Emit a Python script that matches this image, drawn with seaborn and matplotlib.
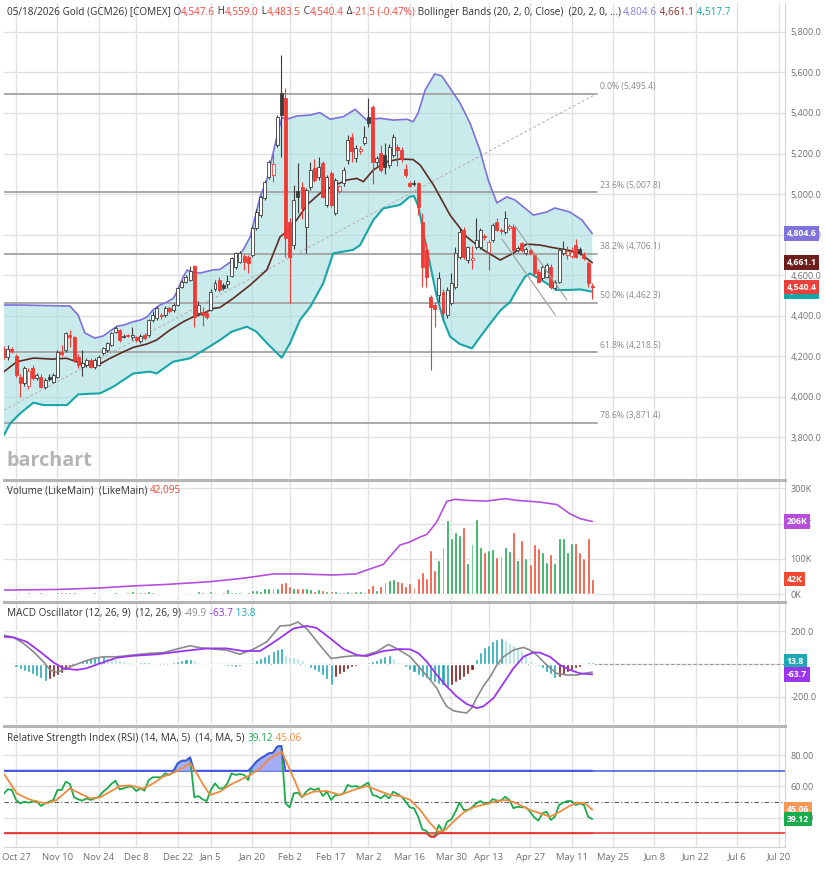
import numpy as np
import pandas as pd
import matplotlib

matplotlib.use('Agg')
import matplotlib.pyplot as plt
from matplotlib.ticker import FuncFormatter
import seaborn as sns

# ----------------------------------------------------------------------------------------------------------------------
# trading calendar (day 0 = Oct 22 2025), exchange holidays before the last bar
holidays = ['2025-11-27', '2025-12-25', '2026-01-01', '2026-01-19', '2026-02-16', '2026-04-03']
tick_dates = ['2025-10-27', '2025-11-10', '2025-11-24', '2025-12-08', '2025-12-22', '2026-01-05',
              '2026-01-20', '2026-02-02', '2026-02-17', '2026-03-02', '2026-03-16', '2026-03-30',
              '2026-04-13', '2026-04-27', '2026-05-11', '2026-05-25', '2026-06-08', '2026-06-22',
              '2026-07-06', '2026-07-20']
tick_labels = ['Oct 27', 'Nov 10', 'Nov 24', 'Dec 8', 'Dec 22', 'Jan 5', 'Jan 20', 'Feb 2', 'Feb 17',
               'Mar 2', 'Mar 16', 'Mar 30', 'Apr 13', 'Apr 27', 'May 11', 'May 25', 'Jun 8', 'Jun 22',
               'Jul 6', 'Jul 20']

# daily candles, Oct 22 2025 .. May 18 2026
opens = [4233, 4193, 4233, 4200, 4098, 4065, 4050, 4139, 4090, 4098,
         4045, 4098, 4073, 4098, 4221, 4230, 4304, 4292, 4197, 4144,
         4156, 4180, 4147, 4156, 4213, 4230, 4254, 4320, 4328, 4296,
         4300, 4295, 4292, 4276, 4304, 4304, 4378, 4386, 4402, 4402,
         4435, 4427, 4452, 4542, 4567, 4575, 4644, 4411, 4419, 4414,
         4427, 4529, 4575, 4551, 4556, 4595, 4641, 4666, 4694, 4690,
         4699, 4831, 4896, 4979, 5086, 5094, 5242, 5497, 5472, 4863,
         4748, 5017, 5036, 4839, 5036, 5127, 5082, 5155, 4946, 5105,
         4908, 5016, 5053, 5168, 5283, 5176, 5210, 5250, 5382, 5431,
         5160, 5201, 5193, 5143, 5193, 5234, 5217, 5122, 5056, 5055,
         5053, 4863, 4723, 4493, 4452, 4501, 4518, 4403, 4460, 4542,
         4691, 4822, 4674, 4675, 4740, 4740, 4793, 4715, 4773, 4863,
         4820, 4814, 4830, 4839, 4725, 4756, 4707, 4725, 4699, 4617,
         4584, 4592, 4641, 4534, 4567, 4707, 4700, 4695, 4748, 4727,
         4699, 4658, 4547.6]
highs = [4250, 4255, 4245, 4210, 4110, 4150, 4140, 4155, 4115, 4110,
         4090, 4110, 4115, 4230, 4255, 4320, 4330, 4300, 4210, 4230,
         4190, 4190, 4190, 4205, 4245, 4270, 4320, 4350, 4335, 4310,
         4308, 4345, 4300, 4310, 4312, 4385, 4420, 4445, 4415, 4445,
         4445, 4460, 4540, 4575, 4600, 4645, 4650, 4470, 4440, 4425,
         4530, 4575, 4590, 4560, 4600, 4690, 4715, 4720, 4705, 4700,
         4840, 4925, 4995, 5070, 5170, 5200, 5390, 5686, 5522, 4880,
         5045, 5152, 5060, 5030, 5160, 5175, 5185, 5165, 5095, 5115,
         5080, 5045, 5135, 5290, 5300, 5240, 5235, 5335, 5472, 5440,
         5190, 5240, 5250, 5245, 5295, 5245, 5230, 5150, 5065, 5070,
         5060, 4905, 4756, 4501, 4468, 4617, 4530, 4540, 4608, 4740,
         4830, 4835, 4745, 4745, 4880, 4830, 4805, 4775, 4855, 4880,
         4830, 4915, 4850, 4850, 4745, 4765, 4740, 4730, 4710, 4630,
         4650, 4660, 4655, 4575, 4730, 4770, 4745, 4740, 4780, 4740,
         4715, 4670, 4559.0]
lows = [4185, 4180, 4215, 4095, 3999, 4050, 4035, 4080, 4080, 4040,
        4035, 4075, 4065, 4090, 4200, 4222, 4245, 4170, 4140, 4100,
        4145, 4140, 4135, 4150, 4205, 4222, 4248, 4312, 4270, 4290,
        4292, 4280, 4270, 4265, 4280, 4295, 4370, 4378, 4385, 4395,
        4415, 4418, 4445, 4535, 4560, 4570, 4345, 4400, 4350, 4385,
        4420, 4520, 4515, 4525, 4535, 4590, 4630, 4660, 4625, 4608,
        4690, 4820, 4885, 4970, 5075, 5060, 5230, 5184, 4690, 4460,
        4730, 4905, 4875, 4707, 5020, 5060, 5070, 4980, 4935, 4935,
        4895, 5005, 5040, 5150, 5160, 5160, 5200, 5240, 5330, 5050,
        5140, 5110, 5100, 5130, 5185, 5140, 5160, 5085, 5035, 5040,
        4896, 4542, 4542, 4131, 4345, 4468, 4378, 4390, 4450, 4530,
        4680, 4680, 4660, 4630, 4730, 4730, 4775, 4625, 4765, 4815,
        4805, 4805, 4820, 4715, 4715, 4715, 4700, 4700, 4600, 4560,
        4575, 4585, 4530, 4525, 4560, 4700, 4680, 4685, 4685, 4700,
        4675, 4540, 4483.5]
closes = [4193, 4235, 4226, 4106, 4065, 4139, 4128, 4090, 4106, 4049,
          4082, 4085, 4106, 4221, 4210, 4312, 4292, 4180, 4156, 4164,
          4180, 4147, 4180, 4197, 4238, 4263, 4312, 4337, 4279, 4300,
          4299, 4304, 4279, 4299, 4287, 4378, 4402, 4435, 4397, 4435,
          4424, 4452, 4534, 4567, 4592, 4620, 4394, 4452, 4402, 4394,
          4518, 4562, 4526, 4534, 4572, 4682, 4707, 4707, 4666, 4661,
          4831, 4913, 4987, 5061, 5160, 5150, 5382, 5390, 4781, 4691,
          4970, 4987, 4929, 5020, 5119, 5069, 5135, 4987, 5086, 4946,
          5069, 5040, 5119, 5267, 5214, 5226, 5222, 5283, 5349, 5160,
          5176, 5119, 5135, 5234, 5283, 5217, 5175, 5094, 5040, 5050,
          4937, 4641, 4592, 4444, 4431, 4584, 4411, 4526, 4559, 4707,
          4814, 4691, 4740, 4685, 4773, 4822, 4786, 4765, 4847, 4822,
          4817, 4880, 4840, 4723, 4735, 4723, 4731, 4710, 4608, 4567,
          4641, 4649, 4542, 4567, 4723, 4731, 4718, 4712, 4691, 4707,
          4682, 4561.9, 4540.4]

# Bollinger Bands (20, 2): (day, value)
upper_day = [0.1, 4, 11, 16, 18, 19.6, 22, 24, 25.7, 27.4, 29, 31, 33, 34.6, 36, 37.7, 39.4, 41, 42, 43.3,
             44.3, 45.7, 47.4, 50.5, 52.2, 55.4, 57.8, 59.5, 60.7, 61.9, 63.5, 65, 66.3, 67.2, 68.3, 70.7,
             74, 76.3, 78.8, 82, 84.8, 87.6, 90.8, 94, 97.3, 98.8, 100, 101.7, 104, 105.7, 107.7, 110.1,
             112.5, 114.9, 116.9, 119, 121.4, 123.4, 127.8, 131, 133, 136.6, 139.5, 142]
upper_val = [4452, 4452, 4449, 4447, 4402, 4314, 4289, 4299, 4324, 4348, 4353, 4368, 4378, 4393, 4427, 4452,
             4467, 4486, 4526, 4590, 4625, 4612, 4610, 4625, 4628, 4674, 4724, 4789, 4888, 4987, 5069, 5201,
             5316, 5378, 5369, 5385, 5390, 5402, 5369, 5382, 5418, 5365, 5374, 5365, 5369, 5357, 5400, 5514,
             5593, 5583, 5523, 5449, 5351, 5217, 5069, 4956, 4986, 4970, 4896, 4911, 4931, 4911, 4872, 4804.6]
mid_day = [0.1, 3.2, 7.2, 11.8, 15.2, 17.6, 20, 22.8, 25.7, 28.9, 31.3, 34.5, 36.9, 40.1, 43.4, 45.8, 48.2,
           50.6, 52.2, 55.4, 59.5, 63.5, 66.7, 68.3, 70.7, 73.2, 76.3, 79.5, 82.8, 85.2, 86.8, 89.2, 92.5,
           95.6, 98.8, 100.5, 103.7, 107.7, 111.7, 115.7, 119.8, 122.9, 126.2, 129.4, 132.6, 135.9, 139.1, 142]
mid_val = [4123, 4172, 4190, 4185, 4189, 4172, 4156, 4156, 4189, 4221, 4243, 4259, 4279, 4328, 4370, 4394,
           4411, 4435, 4440, 4485, 4551, 4625, 4789, 4814, 4872, 4946, 5003, 5040, 5069, 5077, 5061, 5119,
           5160, 5173, 5170, 5143, 5045, 4896, 4789, 4724, 4674, 4707, 4753, 4748, 4735, 4724, 4707, 4661.1]
lower_day = [0.1, 1.6, 4, 7.2, 9.6, 15.3, 18, 23.3, 26.5, 31.3, 35.3, 36.9, 40.9, 45, 49, 52.2, 55, 58.7,
             61, 63.5, 67.1, 69.1, 71.5, 74, 77.1, 79.5, 84.3, 86, 89.2, 91.6, 95.6, 98, 99, 100.1, 101.3,
             103, 104.5, 106.1, 107.7, 110.1, 113, 115, 117.4, 119.8, 122.2, 123.8, 125.8, 127, 129.4, 131,
             133.5, 135.9, 139.1, 142]
lower_val = [3810, 3868, 3917, 3970, 3958, 3958, 4011, 4016, 4049, 4114, 4123, 4114, 4172, 4189, 4238, 4279,
             4320, 4345, 4320, 4264, 4192, 4264, 4378, 4444, 4559, 4707, 4724, 4748, 4872, 4929, 4946, 4987,
             4990, 4937, 4806, 4641, 4493, 4378, 4296, 4259, 4238, 4296, 4361, 4424, 4468, 4526, 4592, 4608,
             4579, 4559, 4526, 4526, 4529, 4517.7]

# Fibonacci retracement and drawn trend lines
fib_pct = ['0.0%', '23.6%', '38.2%', '50.0%', '61.8%', '78.6%']
fib_lvl = [5495.4, 5007.8, 4706.1, 4462.3, 4218.5, 3871.4]
fib_span = [0.1, 143.1]
fib_diag = [3933, 5495.4]
trend_a_day, trend_a_val = [120.2, 133.1], [4778, 4402]
trend_b_day, trend_b_val = [123.4, 135.9], [4842, 4477]

# volume (thousands) and its moving average
volume = [4, 3, 4, 5, 4, 3, 5, 4, 3, 5,
          4, 4, 3, 5, 7, 6, 6, 5, 3, 3,
          4, 4, 7, 4, 3, 3, 4, 5, 3, 4,
          5, 8, 6, 7, 7, 8, 7, 4, 4, 3,
          4, 3, 3, 3, 3, 4, 4, 9, 6, 4,
          9, 5, 4, 6, 13, 7, 7, 6, 4, 5,
          11, 10, 9, 16, 16, 17, 18, 30, 33, 23,
          16, 18, 18, 16, 13, 8, 13, 11, 8, 8,
          9, 7, 7, 8, 7, 8, 9, 7, 16, 25,
          11, 23, 35, 41, 44, 37, 35, 23, 32, 19,
          46, 63, 46, 125, 68, 98, 134, 209, 158, 175,
          167, 189, 89, 143, 214, 134, 120, 126, 129, 106,
          108, 134, 122, 176, 98, 153, 101, 84, 143, 131,
          118, 92, 115, 87, 159, 159, 120, 146, 146, 118,
          101, 160, 42.095]
vol_ma_day = [0.1, 13, 23, 31.3, 39, 49.8, 58, 65.1, 71, 79.6, 85, 87.6, 91.6, 92.8, 95.6, 98, 100.5, 102.1,
              104.5, 106.9, 108.9, 111.7, 116.6, 121, 123.8, 129.4, 133.5, 136.6, 139.1, 142]
vol_ma_val = [11, 13, 17, 23, 27, 35, 45, 57, 57, 54, 57, 68, 84, 101, 139, 148, 162, 169, 205, 263, 269,
              266, 264, 271, 266, 261, 254, 228, 214, 206]

# MACD (12, 26, 9)
macd_hist = [14, -4, -8, -16, -30, -40, -50, -60, -73, -87,
             -101, -91, -77, -67, -53, -36, -16, -2, 10, 20,
             30, 38, 44, 50, 55, 44, 34, 28, 22, 18,
             14, 10, 8, 10, 12, 12, 8, 4, 2, 2,
             6, 10, 18, 24, 28, 30, 22, 10, 4, -4,
             -6, -4, -6, -4, -10, -14, -16, -12, -8, -4,
             10, 24, 38, 50, 62, 79, 89, 95, 55, 48,
             42, 38, 24, 8, -22, -34, -50, -67, -91, -131,
             -77, -63, -46, -32, -18, -10, -6, 4, 10, 18,
             26, 38, 46, 55, 38, 14, -8, -18, -34, -50,
             -67, -77, -87, -97, -107, -121, -131, -141, -127, -107,
             -97, -77, -63, -36, 30, 75, 101, 115, 139, 151,
             156, 149, 131, 115, 101, 85, 65, 24, 10, -10,
             -26, -46, -63, -83, -79, -67, -46, -36, -26, -16,
             -4, 12, 13.8]
macd_day = [0.1, 2.4, 4.8, 7.2, 9.6, 11.2, 12.8, 14.8, 16.8, 19.2, 21.7, 24.1, 27.3, 31.3, 35.3, 38.5, 41.8,
            45, 47.4, 50.6, 53.8, 57, 60.3, 63.5, 66.7, 69.1, 71, 73.1, 76.3, 79, 80.4, 82, 84.4, 86.8, 90,
            92.8, 94.8, 98.1, 100.5, 102.9, 104.5, 105.7, 106.9, 108.5, 110.1, 111.7, 112.9, 114.1, 115.7,
            117.4, 119, 120.6, 123, 125.4, 127, 128.6, 131, 133.4, 135.8, 138.3, 140.3, 142]
macd_val = [176, 162, 125, 75, 14, -36, -50, -30, -10, 14, 34, 44, 44, 55, 65, 69, 91, 111, 99, 91, 85, 59,
            91, 135, 232, 236, 256, 216, 115, 34, 38, 44, 50, 50, 75, 119, 95, 44, -26, -97, -147, -208,
            -259, -285, -293, -299, -269, -208, -137, -77, -6, 44, 85, 101, 85, 55, -6, -57, -67, -67, -57,
            -49.9]
signal_day = [0.1, 2.4, 5.6, 8.8, 12, 14.4, 17.6, 20, 23.3, 27.3, 31.3, 37, 43.4, 49, 53.8, 57.8, 61.9,
              65.9, 69.9, 73.1, 75.5, 78.8, 82, 85.2, 87.6, 91.6, 95.6, 98.1, 100.1, 102.1, 104.5, 106.9,
              109.3, 111.7, 114.1, 115.7, 118.2, 120.6, 123, 125.4, 127.8, 129.4, 131.8, 134.2, 136.6, 139, 142]
signal_val = [166, 162, 135, 75, 10, -26, -36, -26, 4, 38, 50, 59, 79, 95, 95, 79, 79, 145, 216, 232, 220,
              156, 91, 55, 48, 79, 91, 89, 65, 14, -67, -137, -198, -244, -269, -259, -208, -117, -26, 44,
              71, 69, 44, -6, -36, -57, -63.7]

# RSI (14) and its 5-day average
rsi = [55.1, 58.1, 57.7, 51.3, 49.1, 50.2, 49.6, 50.2, 50.6, 47.4,
       49.1, 50.2, 51.3, 57.7, 57.7, 63.0, 61.5, 53.0, 51.7, 50.9,
       52.3, 51.3, 52.3, 53.4, 56.6, 58.7, 61.5, 63.6, 58.1, 58.7,
       59.8, 59.8, 57.0, 58.7, 57.2, 64.0, 65.8, 65.8, 65.8, 68.3,
       67.3, 69.4, 74.7, 76.4, 76.4, 78.5, 53.0, 53.8, 51.7, 50.6,
       57.7, 61.9, 58.7, 58.7, 61.9, 68.3, 67.3, 67.9, 67.3, 64.0,
       72.6, 75.8, 77.9, 79.4, 81.1, 81.5, 85.4, 85.8, 49.1, 46.6,
       55.5, 56.0, 53.0, 56.6, 58.7, 57.7, 58.7, 53.8, 56.6, 51.3,
       54.5, 54.5, 55.5, 60.9, 59.8, 60.2, 59.2, 60.9, 62.4, 54.5,
       53.8, 52.3, 54.5, 52.3, 56.6, 55.1, 53.4, 50.2, 46.6, 46.0,
       40.6, 32.5, 31.5, 27.8, 27.8, 35.3, 31.0, 37.4, 38.9, 43.8,
       49.6, 44.9, 44.9, 46.6, 49.1, 50.6, 49.1, 49.1, 51.9, 50.9,
       50.9, 53.4, 51.3, 46.0, 47.0, 46.6, 46.6, 43.8, 40.2, 38.1,
       42.8, 43.8, 38.5, 40.6, 48.1, 49.6, 50.6, 50.6, 48.1, 49.1,
       48.1, 40.6, 39.12]
rsi_ma_day = [0.1, 1.6, 3.2, 5.6, 8, 10.4, 12.8, 16, 18.4, 20.9, 23.3, 25.7, 28.1, 30.5, 33.7, 36.1, 38.5,
              41, 43, 45, 46.6, 48.2, 49.8, 52.2, 54.6, 57, 59.5, 61.9, 64.3, 67.1, 69.1, 71.9, 74.7, 77.9,
              81.2, 84.4, 87.6, 90, 93.2, 95.6, 98.1, 100.5, 102.9, 104.9, 106.5, 108.5, 110.9, 113.3, 116.5,
              119, 121.4, 123.8, 127, 129.4, 131.8, 134.2, 136.2, 138.3, 140.3, 142]
rsi_ma_val = [67.9, 61.9, 55.5, 52.3, 50.2, 49.1, 51.3, 58.7, 55.5, 52.3, 53, 56.6, 60.2, 60.6, 58.5, 61.9,
              66.2, 68.7, 71.5, 74.7, 68.3, 60.9, 54.5, 56.6, 60.9, 64, 67.3, 71.5, 77.9, 82.2, 70.4, 53.4,
              56.6, 57, 54.5, 57.7, 60.2, 57.7, 54.5, 53.8, 51.3, 44.9, 36.4, 31, 32.1, 37.4, 43.2, 46.6,
              48.7, 50.6, 51.3, 49.1, 44.9, 42.8, 40.6, 43.8, 47, 49.6, 49.1, 45.06]

# ----------------------------------------------------------------------------------------------------------------------
sns.set_theme(style='white')
plt.rcParams['font.family'] = ['Open Sans', 'DejaVu Sans']

W, H = 827, 872
fig = plt.figure(figsize=(W / 100, H / 100), dpi=100)
fig.patch.set_facecolor('white')


def px_axes(top, bottom):
    return fig.add_axes([4 / W, 1 - bottom / H, 781 / W, (bottom - top) / H])


ax_p = px_axes(3, 478)
ax_v = px_axes(480, 600)
ax_m = px_axes(602, 724)
ax_r = px_axes(726, 847)
axes = [ax_p, ax_v, ax_m, ax_r]

cal = pd.bdate_range('2025-10-22', '2026-07-31', freq='C', holidays=holidays)
tick_pos = cal.get_indexer(pd.to_datetime(tick_dates))
day = np.arange(len(closes))

o, hi, lo, c = map(np.array, (opens, highs, lows, closes))
prev_c = np.r_[o[0], c[:-1]]
candle_col = np.where(c >= prev_c, '#3b3b3b', '#ef3b36')
face_col = np.where(c < o, candle_col, 'white')

GRID = '#e1e1e1'
LBL = '#707070'
TXT = 7.2


def line(ax, x, y, color, lw, z=3):
    sns.lineplot(x=np.asarray(x, float), y=np.asarray(y, float), ax=ax, color=color, linewidth=lw,
                 estimator=None, sort=False, legend=False, zorder=z)


def tag(ax, val, txt, colr):
    ax.annotate(txt, xy=(1, val), xycoords=('axes fraction', 'data'), xytext=(1.2, 0),
                textcoords='offset points', ha='left', va='center', fontsize=6.3, fontweight='bold',
                color='white', bbox=dict(boxstyle='square,pad=0.32', fc=colr, ec='none'),
                annotation_clip=False, zorder=10)


def rich(ax, y, parts, size=TXT):
    prev = None
    for s, colr in parts:
        if prev is None:
            prev = ax.annotate(s, xy=(7 / W, 1 - y / H), xycoords='figure fraction', ha='left', va='center',
                               color=colr, fontsize=size, annotation_clip=False, zorder=11)
        else:
            prev = ax.annotate(s, xy=(1, 0), xycoords=prev, ha='left', va='bottom', color=colr,
                               fontsize=size, annotation_clip=False, zorder=11)


# ---------------------------------------------------------------- price panel
ax = ax_p
ax.fill(np.r_[upper_day, lower_day[::-1]], np.r_[upper_val, lower_val[::-1]], color='#9fdcdc', alpha=0.55,
        lw=0, zorder=1)
for lvl, pct in zip(fib_lvl, fib_pct):
    ax.plot(fib_span, [lvl, lvl], color='#a3a3a3', lw=1.3, zorder=1.5)
    ax.annotate(f'{pct} ({lvl:,.1f})', xy=(fib_span[1], lvl), xytext=(2, 5), textcoords='offset points',
                ha='left', va='center', fontsize=6.2, color='#8a8a8a')
ax.plot(fib_span, fib_diag, color='#b5b5b5', lw=0.8, ls=(0, (2.5, 2)), zorder=1.6)
line(ax, upper_day, upper_val, '#7d70dc', 1.2)
line(ax, mid_day, mid_val, '#5c2b24', 1.2)
line(ax, lower_day, lower_val, '#17a6a8', 1.5)
ax.vlines(day, lo, hi, colors=candle_col, lw=0.8, zorder=4)
ax.bar(day, np.maximum(np.abs(c - o), 4), bottom=np.minimum(o, c), width=0.72, color=face_col,
       edgecolor=candle_col, linewidth=0.6, zorder=5)
ax.plot(trend_a_day, trend_a_val, color='#9c9c9c', lw=0.8, zorder=6)
ax.plot(trend_b_day, trend_b_val, color='#9c9c9c', lw=0.8, zorder=6)
ax.set_ylim(3598, 5943)
ax.set_yticks(np.arange(3800, 5801, 200))
ax.yaxis.set_major_formatter(FuncFormatter(lambda v, p: f'{v:,.1f}'))
tag(ax, lower_val[-1], f'{lower_val[-1]:,.1f}', '#17a6a8')
tag(ax, upper_val[-1], f'{upper_val[-1]:,.1f}', '#8173dc')
tag(ax, mid_val[-1], f'{mid_val[-1]:,.1f}', '#6e1e1a')
tag(ax, closes[-1], f'{closes[-1]:,.1f}', '#ea3f3a')
ax.annotate('barchart', xy=(6 / W, 1 - 461 / H), xycoords='figure fraction', ha='left', va='center',
            fontsize=14.2, fontweight='bold', color='#b4b4b4', zorder=11)
chg = closes[-1] - closes[-2]
RED = '#f0483e'
rich(ax, 12, [('05/18/2026 Gold (GCM26) [COMEX] O', '#333333'), (f'{opens[-1]:,.1f}', RED),
              (' H', '#333333'), (f'{highs[-1]:,.1f}', RED), (' L', '#333333'), (f'{lows[-1]:,.1f}', RED),
              (' C', '#333333'), (f'{closes[-1]:,.1f}', RED), (' Δ', '#333333'),
              (f'{chg:.1f} ({chg / closes[-2] * 100:.2f}%)', RED),
              (' Bollinger Bands (20, 2, 0, Close)  (20, 2, 0, ...) ', '#333333'),
              (f'{upper_val[-1]:,.1f}', '#8b7fe0'), (f' {mid_val[-1]:,.1f}', '#8f2f2a'),
              (f' {lower_val[-1]:,.1f}', '#1aa8a8')])

# ---------------------------------------------------------------- volume panel
ax = ax_v
vol_col = np.where(c >= o, '#1ca84f', '#f04b32')
ax.bar(day, np.array(volume) * 1000, width=0.7, color=vol_col, zorder=3)
line(ax, vol_ma_day, np.array(vol_ma_val) * 1000, '#b54fe0', 1.2, z=4)
ax.set_ylim(-17045, 323864)
ax.set_yticks([0, 100000, 200000, 300000])
ax.yaxis.set_major_formatter(FuncFormatter(lambda v, p: f'{int(round(v / 1000))}K'))
tag(ax, vol_ma_val[-1] * 1000, f'{vol_ma_val[-1]:.0f}K', '#b74fd9')
tag(ax, volume[-1] * 1000, f'{volume[-1]:.0f}K', '#f04b32')
rich(ax, 490.5, [('Volume (LikeMain)  (LikeMain) ', '#333333'), (f'{volume[-1] * 1000:,.0f}', '#f04b32')])

# ---------------------------------------------------------------- MACD panel
ax = ax_m
hist = np.array(macd_hist, float)
dh = np.diff(hist, prepend=hist[0] + 10)
hist_col = np.where(hist >= 0, np.where(dh >= 0, '#1fa9b3', '#a8e1e3'),
                    np.where(dh > 0, '#7d1414', '#1fa9b3'))
ax.bar(day, hist, width=0.74, color=hist_col, zorder=3)
ax.axhline(0, color='#9a9a9a', lw=0.8, ls=(0, (3, 2)), zorder=2)
line(ax, macd_day, macd_val, '#8a8a8a', 1.2, z=4)
line(ax, signal_day, signal_val, '#9b35f0', 1.3, z=5)
ax.set_ylim(-366, 378)
ax.set_yticks([-200, 0, 200])
ax.yaxis.set_major_formatter(FuncFormatter(lambda v, p: f'{v:.1f}'))
tag(ax, macd_hist[-1], f'{macd_hist[-1]:.1f}', '#1fa9b3')
tag(ax, signal_val[-1], f'{signal_val[-1]:.1f}', '#9b35f0')
rich(ax, 613, [('MACD Oscillator (12, 26, 9)  (12, 26, 9) ', '#333333'), (f'{macd_val[-1]:.1f}', '#8a8a8a'),
               (f' {signal_val[-1]:.1f}', '#9b35f0'), (f' {macd_hist[-1]:.1f}', '#1fa9b3')])

# ---------------------------------------------------------------- RSI panel
ax = ax_r
r = np.array(rsi)
ax.axhline(70, color='#4d63e6', lw=1.2, zorder=2)
ax.axhline(30, color='#e53935', lw=1.2, zorder=2)
ax.axhline(50, color='#606060', lw=0.8, ls=(0, (4, 2, 1, 2)), zorder=2)
ax.fill_between(day, r, 70, where=r > 70, interpolate=True, color='#a3acf5', lw=0, zorder=2.5)
ax.fill_between(day, r, 30, where=r < 30, interpolate=True, color='#f5a3a3', lw=0, zorder=2.5)
line(ax, day, r, '#1aab4c', 1.3, z=3)
line(ax, day, np.maximum(r, 70), '#3f51e8', 1.3, z=3.2)
line(ax, day, np.minimum(r, 30), '#e53935', 1.3, z=3.2)
line(ax, rsi_ma_day, rsi_ma_val, '#f28a3e', 1.3, z=4)
ax.set_ylim(21.25, 98.56)
ax.set_yticks([40, 60, 80])
ax.yaxis.set_major_formatter(FuncFormatter(lambda v, p: f'{v:.2f}'))
tag(ax, rsi_ma_val[-1], f'{rsi_ma_val[-1]:.2f}', '#f2995a')
tag(ax, rsi[-1], f'{rsi[-1]:.2f}', '#1aab4c')
rich(ax, 738, [('Relative Strength Index (RSI) (14, MA, 5)  (14, MA, 5) ', '#333333'),
               (f'{rsi[-1]:.2f}', '#1aab4c'), (f' {rsi_ma_val[-1]:.2f}', '#f28a3e')])

# ---------------------------------------------------------------- common styling
for a in axes:
    a.set_xlim(0.1, 188.5)
    a.set_xticks(tick_pos)
    a.set_facecolor('white')
    a.grid(True, color=GRID, lw=1.0)
    a.set_axisbelow(True)
    a.set_xlabel('')
    a.set_ylabel('')
    a.yaxis.tick_right()
    a.tick_params(axis='y', length=0, pad=4, labelsize=6.5, labelcolor=LBL)
    a.tick_params(axis='x', length=0, pad=4, labelsize=6.8, labelcolor=LBL, labelbottom=(a is ax_r))
    for s in ('left', 'bottom', 'top'):
        a.spines[s].set_visible(False)
    a.spines['right'].set_color('#d3d3d3')
    a.spines['right'].set_linewidth(0.8)
for a in (ax_v, ax_m, ax_r):
    a.spines['top'].set_visible(True)
    a.spines['top'].set_color('#b5b5b5')
    a.spines['top'].set_linewidth(2.2)
ax_r.set_xticklabels(tick_labels)
ax_r.spines['bottom'].set_visible(True)
ax_r.spines['bottom'].set_color('#d3d3d3')
ax_r.spines['bottom'].set_linewidth(0.8)

fig.savefig('out.png', dpi=100, facecolor='white')
